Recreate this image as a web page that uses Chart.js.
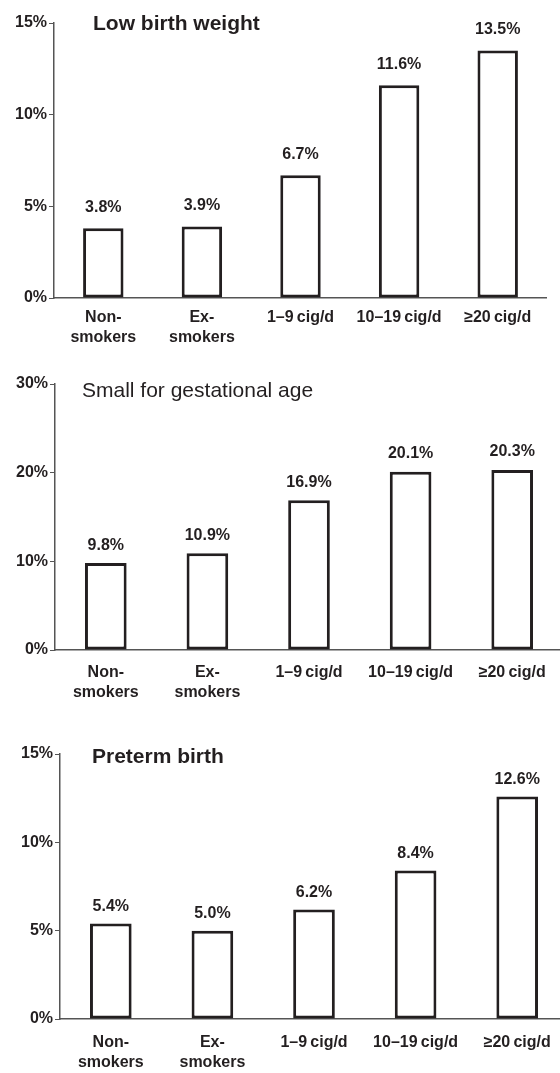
<!DOCTYPE html>
<html>
<head>
<meta charset="utf-8">
<script src="https://cdn.jsdelivr.net/npm/chart.js@4"></script>
<style>
  html, body { margin: 0; padding: 0; background: #fff; }
  body { width: 560px; height: 1073px; overflow: hidden; position: relative; }
  .panel { position: absolute; left: 0; }
  canvas { display: block; }
</style>
</head>
<body>
<div class="panel" style="top:0px"><canvas id="lbw"></canvas></div>
<div class="panel" style="top:355px"><canvas id="sga"></canvas></div>
<div class="panel" style="top:725px"><canvas id="ptb"></canvas></div>
<script>
const categories = [['Non-', 'smokers'], ['Ex-', 'smokers'], '1–9\u2009cig/d', '10–19\u2009cig/d', '≥20\u2009cig/d'];
const lowBirthWeight = [3.8, 3.9, 6.7, 11.6, 13.5];
const smallForGestationalAge = [9.8, 10.9, 16.9, 20.1, 20.3];
const pretermBirth = [5.4, 5.0, 6.2, 8.4, 12.6];
const titles = ['Low birth weight', 'Small for gestational age', 'Preterm birth'];
const yMax = [15, 30, 15];
const yStep = [5, 10, 5];

const FONT = "'Liberation Sans', Arial, sans-serif";
const INK = '#231f20';

// value labels above bars + panel title inside plot area
const barText = {
  id: 'barText',
  afterDatasetsDraw(chart, args, opts) {
    const ctx = chart.ctx;
    const meta = chart.getDatasetMeta(0);
    ctx.save();
    ctx.fillStyle = INK;
    ctx.font = 'bold 16px ' + FONT;
    ctx.textAlign = 'center';
    ctx.textBaseline = 'middle';
    meta.data.forEach((bar, i) => {
      const v = chart.data.datasets[0].data[i];
      ctx.fillText(v.toFixed(1) + '%', bar.x, bar.y - opts.gap);
    });
    ctx.font = opts.weight + ' 21px ' + FONT;
    ctx.textAlign = 'left';
    ctx.fillText(opts.title, chart.chartArea.left + opts.tx, chart.chartArea.top + opts.ty);
    ctx.restore();
  }
};

function makeChart(id, values, idx, s) {
  const el = document.getElementById(id);
  el.width = s.w; el.height = s.h;
  el.style.width = s.w + 'px'; el.style.height = s.h + 'px';
  return new Chart(el, {
    type: 'bar',
    data: {
      labels: categories,
      datasets: [{
        data: values,
        backgroundColor: '#fff',
        borderColor: INK,
        borderWidth: 3,
        borderSkipped: false,
        barPercentage: 0.41,
        categoryPercentage: 1
      }]
    },
    options: {
      responsive: false,
      animation: false,
      layout: { padding: { top: s.top, left: 0, right: 0, bottom: 0 } },
      plugins: {
        legend: { display: false },
        tooltip: { enabled: false },
        barText: { title: titles[idx], gap: s.gap, tx: s.tx, ty: s.ty, weight: s.weight }
      },
      scales: {
        x: {
          grid: { display: true, drawOnChartArea: false, drawTicks: false },
          border: { display: true, color: '#555', width: 1.5 },
          ticks: { color: INK, padding: s.xpad, maxRotation: 0, autoSkip: false,
                   font: { family: FONT, size: 16, weight: 'bold', lineHeight: 1.25 } },
          afterFit(axis) { axis.height = 52; }
        },
        y: {
          min: 0, max: yMax[idx],
          grid: { drawOnChartArea: false, drawTicks: true, tickLength: 5, color: '#555' },
          border: { display: true, color: '#555', width: 1.5 },
          ticks: { stepSize: yStep[idx], color: INK, padding: 2,
                   font: { family: FONT, size: 16, weight: 'bold' },
                   callback: v => v + '%' },
          afterFit(axis) { axis.width = s.yw; }
        }
      }
    },
    plugins: [barText]
  });
}

makeChart('lbw', lowBirthWeight, 0, { w: 547, h: 350, top: 23, yw: 54, xpad: 10, gap: 21, tx: 39, ty: 1, weight: 'bold' });
makeChart('sga', smallForGestationalAge, 1, { w: 563, h: 347, top: 29, yw: 55, xpad: 13, gap: 18, tx: 27, ty: 7, weight: 'normal' });
makeChart('ptb', pretermBirth, 2, { w: 568, h: 346, top: 29, yw: 60, xpad: 14, gap: 17, tx: 32, ty: 3, weight: 'bold' });
</script>
</body>
</html>
